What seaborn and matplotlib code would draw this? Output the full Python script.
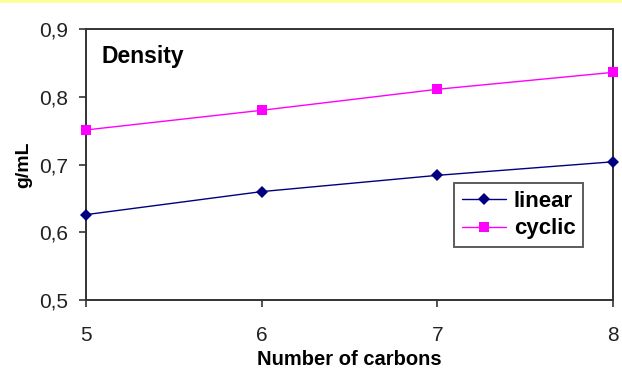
import numpy as np
import pandas as pd
import matplotlib
matplotlib.use("Agg")
import matplotlib.pyplot as plt
import seaborn as sns
from matplotlib.patches import Rectangle

# --- data ---
carbons = [5, 6, 7, 8]
linear = [0.626, 0.660, 0.684, 0.704]
cyclic = [0.751, 0.780, 0.811, 0.836]
series_names = ["linear", "cyclic"]
y_ticks = [0.5, 0.6, 0.7, 0.8, 0.9]
y_tick_labels = ["0,5", "0,6", "0,7", "0,8", "0,9"]

df = pd.DataFrame({
    "carbons": carbons * 2,
    "density": linear + cyclic,
    "type": ["linear"] * len(carbons) + ["cyclic"] * len(carbons),
})

sns.set_theme(style="white")
plt.rcParams["font.family"] = ["Liberation Sans", "DejaVu Sans"]

fig = plt.figure(figsize=(6.22, 3.76), dpi=100)
fig.patch.set_facecolor("white")
# thin yellow strip along the top edge
fig.patches.append(Rectangle((0, 1 - 2.5 / 376), 1, 2.5 / 376, transform=fig.transFigure,
                             facecolor="#FFFF99", edgecolor="none", zorder=0))

ax = fig.add_axes([86 / 622, 76 / 376, 527 / 622, 271 / 376])

colors = {"linear": "#000080", "cyclic": "#FF00FF"}
sns.lineplot(data=df, x="carbons", y="density", hue="type", style="type",
             palette=colors, markers={"linear": "D", "cyclic": "s"}, dashes=False,
             linewidth=1.0, markersize=6.5, markeredgewidth=0, ax=ax,
             hue_order=series_names, style_order=series_names, clip_on=False, zorder=3)

ax.set_xlim(5, 8)
ax.set_ylim(0.5, 0.9)
ax.set_xticks(carbons)
ax.set_xticklabels([str(c) for c in carbons])
ax.set_yticks(y_ticks)
ax.set_yticklabels(y_tick_labels)

ax.tick_params(axis="both", direction="out", length=5, width=1.2, color="#333333",
               labelsize=15, labelcolor="#222222")
ax.tick_params(axis="x", pad=14, bottom=True)
ax.tick_params(axis="y", pad=8, left=True)

for sp in ax.spines.values():
    sp.set_color("#333333")
    sp.set_linewidth(1.4)

ax.set_xlabel("Number of carbons", fontsize=14.5, fontweight="bold", labelpad=3,
              color="black")
ax.set_ylabel("g/mL", fontsize=14, fontweight="bold", labelpad=5, color="black")

ax.text(0.03, 0.94, "Density", transform=ax.transAxes, fontsize=16.5,
        fontweight="bold", va="top", ha="left", color="black")

leg = ax.legend(loc="upper left", bbox_to_anchor=(0.698, 0.432), borderaxespad=0,
                fontsize=16, frameon=True, fancybox=False, handlelength=2.0,
                handletextpad=0.35, borderpad=0.35, labelspacing=0.3)
for t in leg.get_texts():
    t.set_fontweight("bold")
    t.set_color("black")
leg.get_frame().set_edgecolor("#333333")
leg.get_frame().set_linewidth(1.4)

fig.savefig("out.png", dpi=100)
